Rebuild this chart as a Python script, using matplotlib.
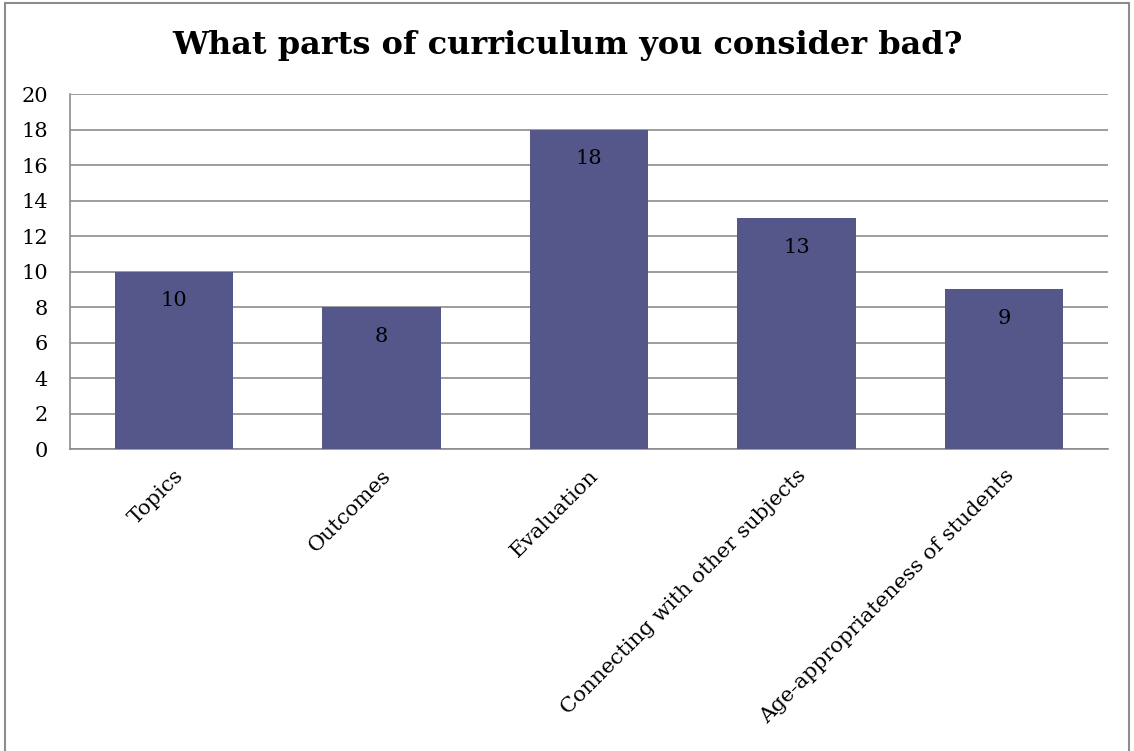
import matplotlib
matplotlib.use("Agg")
import matplotlib.pyplot as plt
from matplotlib.patches import Rectangle

categories = ["Topics", "Outcomes", "Evaluation", "Connecting with other subjects",
              "Age-appropriateness of students"]
counts = [10, 8, 18, 13, 9]
yticks = list(range(0, 21, 2))

plt.rcParams["font.family"] = ["DejaVu Serif"]

fig = plt.figure(figsize=(11.34, 7.51), dpi=100)
ax = fig.add_axes([0.0617, 0.402, 0.9153, 0.4728])

x = range(len(categories))
bars = ax.bar(x, counts, width=0.57, color="#55568A", zorder=3)
for b, v in zip(bars, counts):
    ax.text(b.get_x() + b.get_width() / 2, v - 1.1, str(v), ha="center", va="top",
            fontsize=15, color="black", zorder=4)

ax.set_xlim(-0.5, len(categories) - 0.5)
ax.set_ylim(0, 20)
ax.set_yticks(yticks)
ax.set_yticklabels([str(t) for t in yticks], fontsize=15)
ax.yaxis.grid(True, color="#8c8c8c", linewidth=1.2, zorder=0)
ax.tick_params(axis="y", length=0, pad=16)
ax.tick_params(axis="x", length=0, pad=12)
ax.set_xticks(list(x))
ax.set_xticklabels(categories, rotation=45, ha="right", rotation_mode="anchor", fontsize=15.3)

for side in ["top", "right"]:
    ax.spines[side].set_visible(False)
for side in ["left", "bottom"]:
    ax.spines[side].set_color("#8c8c8c")
    ax.spines[side].set_linewidth(1.2)

fig.text(0.5, 0.94, "What parts of curriculum you consider bad?", ha="center", va="center",
         fontsize=23, fontweight="bold")

fig.patches.append(Rectangle((0.004, -0.01), 0.992, 1.006, transform=fig.transFigure,
                             fill=False, edgecolor="#8c8c8c", linewidth=1.5))

fig.savefig("out.png", dpi=100)
